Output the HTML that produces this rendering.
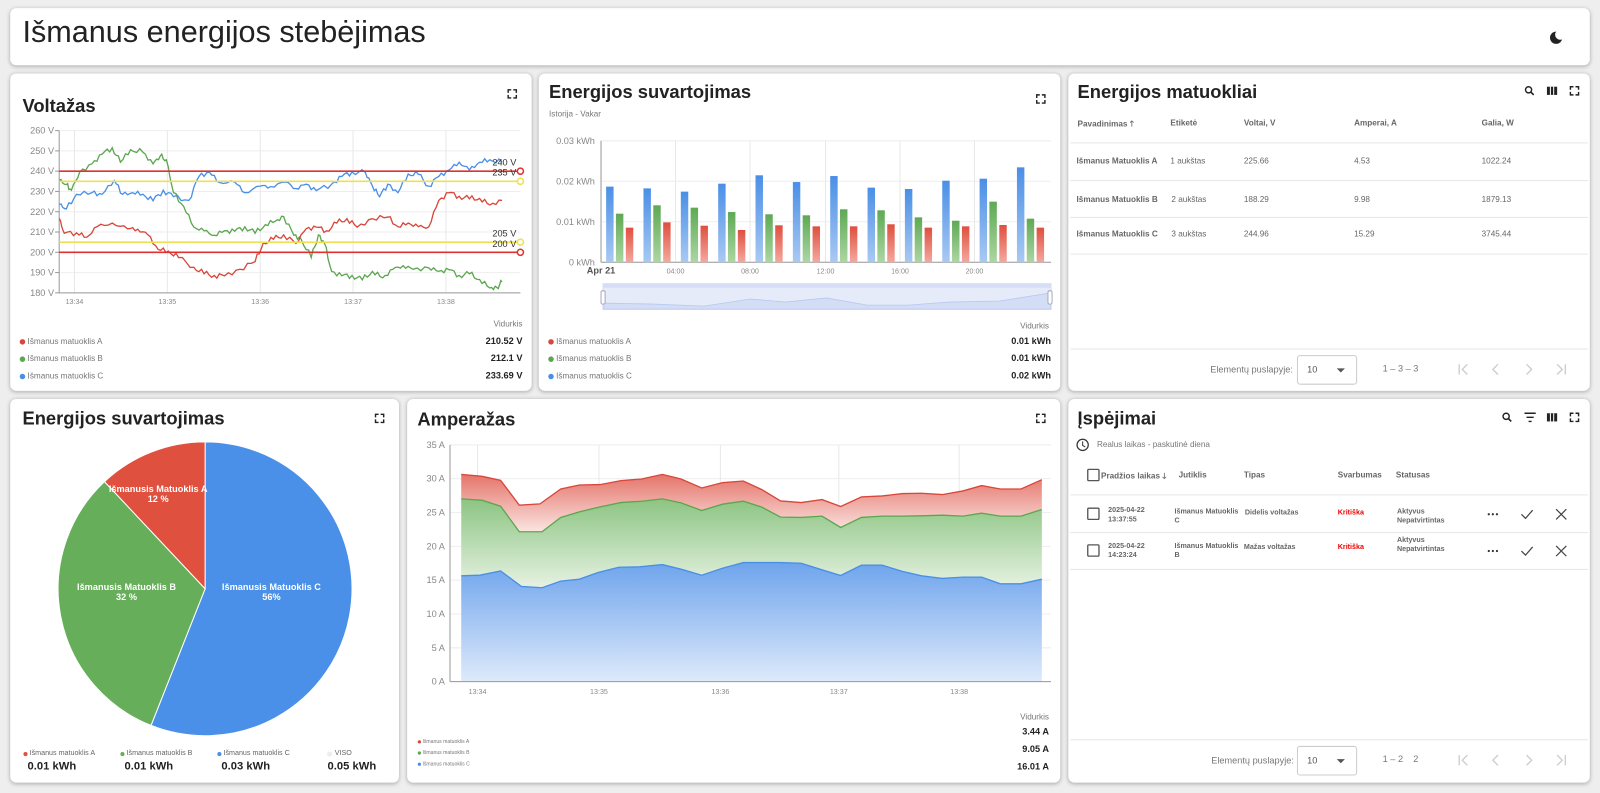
<!DOCTYPE html>
<html><head><meta charset="utf-8">
<style>
html,body{margin:0;padding:0;width:1600px;height:793px;overflow:hidden;background:#eeeeee;font-family:"Liberation Sans",Arial,sans-serif;}
#wrap{position:absolute;left:0;top:0;width:1568px;height:777px;transform:scale(1.020408);transform-origin:0 0;}
.card{position:absolute;background:#fff;border-radius:6px;box-shadow:0 1px 4px rgba(0,0,0,.28);z-index:0}
.t{position:absolute;white-space:nowrap;z-index:2}
.h{font-size:18px;font-weight:bold;color:#222;}
svg{position:absolute;left:0;top:0;overflow:visible;z-index:1}
</style></head><body>
<div id="wrap">
<div class="card" style="left:10px;top:8px;width:1548px;height:56px"></div>
<div class="card" style="left:10px;top:72px;width:511px;height:311px"></div>
<div class="card" style="left:528px;top:72px;width:511px;height:311px"></div>
<div class="card" style="left:1047px;top:72px;width:511px;height:311px"></div>
<div class="card" style="left:10px;top:391px;width:381px;height:376px"></div>
<div class="card" style="left:399px;top:391px;width:640px;height:376px"></div>
<div class="card" style="left:1047px;top:391px;width:511px;height:376px"></div>

<div class="t" style="left:22px;top:15px;font-size:30px;color:#222">Išmanus energijos stebėjimas</div>

<div class="t h" style="left:22px;top:94px">Voltažas</div>
<div class="t h" style="left:538px;top:80px">Energijos suvartojimas</div>
<div class="t" style="left:538px;top:107px;font-size:8px;color:#777">Istorija - Vakar</div>
<div class="t h" style="left:1056px;top:80px">Energijos matuokliai</div>
<div class="t h" style="left:22px;top:400px">Energijos suvartojimas</div>
<div class="t h" style="left:409px;top:401px">Amperažas</div>
<div class="t h" style="left:1056px;top:400px">Įspėjimai</div>
<div class="t" style="left:1075px;top:431px;font-size:8px;color:#777">Realus laikas - paskutinė diena</div>

<div class="t" style="left:470px;top:313px;width:42px;text-align:right;font-size:8px;color:#777">Vidurkis</div>
<div class="t" style="left:27px;top:330px;font-size:8px;color:#777">Išmanus matuoklis A</div>
<div class="t" style="left:27px;top:347px;font-size:8px;color:#777">Išmanus matuoklis B</div>
<div class="t" style="left:27px;top:364px;font-size:8px;color:#777">Išmanus matuoklis C</div>
<div class="t" style="left:440px;top:329px;width:72px;text-align:right;font-size:9px;font-weight:bold;color:#222">210.52 V</div>
<div class="t" style="left:440px;top:346px;width:72px;text-align:right;font-size:9px;font-weight:bold;color:#222">212.1 V</div>
<div class="t" style="left:440px;top:363px;width:72px;text-align:right;font-size:9px;font-weight:bold;color:#222">233.69 V</div>

<div class="t" style="left:980px;top:315px;width:48px;text-align:right;font-size:8px;color:#777">Vidurkis</div>
<div class="t" style="left:545px;top:330px;font-size:8px;color:#777">Išmanus matuoklis A</div>
<div class="t" style="left:545px;top:347px;font-size:8px;color:#777">Išmanus matuoklis B</div>
<div class="t" style="left:545px;top:364px;font-size:8px;color:#777">Išmanus matuoklis C</div>
<div class="t" style="left:950px;top:329px;width:80px;text-align:right;font-size:9px;font-weight:bold;color:#222">0.01 kWh</div>
<div class="t" style="left:950px;top:346px;width:80px;text-align:right;font-size:9px;font-weight:bold;color:#222">0.01 kWh</div>
<div class="t" style="left:950px;top:363px;width:80px;text-align:right;font-size:9px;font-weight:bold;color:#222">0.02 kWh</div>

<div style="font-size:8px;color:#666;font-weight:bold">
<div class="t" style="left:1056px;top:116px">Pavadinimas 🡑</div>
<div class="t" style="left:1147px;top:116px">Etiketė</div>
<div class="t" style="left:1219px;top:116px">Voltai, V</div>
<div class="t" style="left:1327px;top:116px">Amperai, A</div>
<div class="t" style="left:1452px;top:116px">Galia, W</div>
</div>
<div style="font-size:8px;color:#666">
<div class="t" style="left:1055px;top:153px;font-weight:bold">Išmanus Matuoklis A</div><div class="t" style="left:1147px;top:153px">1 aukštas</div><div class="t" style="left:1219px;top:153px">225.66</div><div class="t" style="left:1327px;top:153px">4.53</div><div class="t" style="left:1452px;top:153px">1022.24</div>
<div class="t" style="left:1055px;top:191px;font-weight:bold">Išmanus Matuoklis B</div><div class="t" style="left:1148px;top:191px">2 aukštas</div><div class="t" style="left:1219px;top:191px">188.29</div><div class="t" style="left:1327px;top:191px">9.98</div><div class="t" style="left:1452px;top:191px">1879.13</div>
<div class="t" style="left:1055px;top:225px;font-weight:bold">Išmanus Matuoklis C</div><div class="t" style="left:1148px;top:225px">3 aukštas</div><div class="t" style="left:1219px;top:225px">244.96</div><div class="t" style="left:1327px;top:225px">15.29</div><div class="t" style="left:1452px;top:225px">3745.44</div>
</div>
<div class="t" style="left:1186px;top:357px;font-size:9px;color:#777">Elementų puslapyje:</div>
<div class="t" style="left:1271px;top:348px;width:57px;height:27px;border:1px solid #ccc;border-radius:3px"></div>
<div class="t" style="left:1281px;top:357px;font-size:9px;color:#555">10</div>
<div class="t" style="left:1355px;top:356px;font-size:9px;color:#777">1 – 3 – 3</div>

<div style="font-size:8px;color:#666;font-weight:bold">
<div class="t" style="left:1079px;top:461px">Pradžios laikas 🡓</div>
<div class="t" style="left:1155px;top:461px">Jutiklis</div>
<div class="t" style="left:1219px;top:461px">Tipas</div>
<div class="t" style="left:1311px;top:461px">Svarbumas</div>
<div class="t" style="left:1368px;top:461px">Statusas</div>
</div>
<div style="font-size:7px;color:#666;font-weight:bold;line-height:9px">
<div class="t" style="left:1086px;top:496px">2025-04-22<br>13:37:55</div>
<div class="t" style="left:1151px;top:497px">Išmanus Matuoklis<br>C</div>
<div class="t" style="left:1220px;top:498px">Didelis voltažas</div>
<div class="t" style="left:1311px;top:498px;color:#e00">Kritiška</div>
<div class="t" style="left:1369px;top:497px">Aktyvus<br>Nepatvirtintas</div>
<div class="t" style="left:1086px;top:531px">2025-04-22<br>14:23:24</div>
<div class="t" style="left:1151px;top:531px">Išmanus Matuoklis<br>B</div>
<div class="t" style="left:1219px;top:532px">Mažas voltažas</div>
<div class="t" style="left:1311px;top:532px;color:#e00">Kritiška</div>
<div class="t" style="left:1369px;top:525px">Aktyvus<br>Nepatvirtintas</div>
</div>
<div class="t" style="left:1187px;top:740px;font-size:9px;color:#777">Elementų puslapyje:</div>
<div class="t" style="left:1271px;top:731px;width:57px;height:27px;border:1px solid #ccc;border-radius:3px"></div>
<div class="t" style="left:1281px;top:740px;font-size:9px;color:#555">10</div>
<div class="t" style="left:1355px;top:739px;font-size:9px;color:#777">1 – 2 &nbsp;&nbsp; 2</div>

<div style="font-size:7px;color:#666">
<div class="t" style="left:29px;top:735px">Išmanus matuoklis A</div>
<div class="t" style="left:124px;top:735px">Išmanus matuoklis B</div>
<div class="t" style="left:219px;top:735px">Išmanus matuoklis C</div>
<div class="t" style="left:328px;top:735px">VISO</div>
</div>
<div style="font-size:11px;color:#222;font-weight:bold">
<div class="t" style="left:27px;top:745px">0.01 kWh</div>
<div class="t" style="left:122px;top:745px">0.01 kWh</div>
<div class="t" style="left:217px;top:745px">0.03 kWh</div>
<div class="t" style="left:321px;top:745px">0.05 kWh</div>
</div>
<div style="font-size:9px;color:#fff;font-weight:bold;text-align:center">
<div class="t" style="left:216px;top:570px;width:100px;text-align:center">Išmanusis Matuoklis C<br>56%</div>
<div class="t" style="left:74px;top:570px;width:100px;text-align:center">Išmanusis Matuoklis B<br>32 %</div>
<div class="t" style="left:105px;top:474px;width:100px;text-align:center">Išmanusis Matuoklis A<br>12 %</div>
</div>

<div class="t" style="left:980px;top:698px;width:48px;text-align:right;font-size:8px;color:#777">Vidurkis</div>
<div style="font-size:5px;color:#777">
<div class="t" style="left:414px;top:724px">Išmanus matuoklis A</div>
<div class="t" style="left:414px;top:735px">Išmanus matuoklis B</div>
<div class="t" style="left:414px;top:746px">Išmanus matuoklis C</div>
</div>
<div style="font-size:9px;color:#222;font-weight:bold">
<div class="t" style="left:970px;top:712px;width:58px;text-align:right">3.44 A</div>
<div class="t" style="left:970px;top:729px;width:58px;text-align:right">9.05 A</div>
<div class="t" style="left:970px;top:746px;width:58px;text-align:right">16.01 A</div>
</div>

<svg id="s" width="1568" height="777"></svg>
</div>
<script>
var S=document.getElementById('s'),o='';
o+='<defs>'+
'<linearGradient id="gb" x1="0" y1="0" x2="0" y2="1"><stop offset="0" stop-color="#4a8fe6"/><stop offset="1" stop-color="#a9c9f3"/></linearGradient>'+
'<linearGradient id="gg" x1="0" y1="0" x2="0" y2="1"><stop offset="0" stop-color="#5ea954"/><stop offset="1" stop-color="#acd6a3"/></linearGradient>'+
'<linearGradient id="gr" x1="0" y1="0" x2="0" y2="1"><stop offset="0" stop-color="#df4f3f"/><stop offset="1" stop-color="#f4a89f"/></linearGradient>'+
'<linearGradient id="ab" x1="0" y1="0" x2="0" y2="1"><stop offset="0" stop-color="#6ea4ec"/><stop offset="1" stop-color="#deeafb"/></linearGradient>'+
'<linearGradient id="ag" x1="0" y1="0" x2="0" y2="1"><stop offset="0" stop-color="#8cc482"/><stop offset="1" stop-color="#e6f2e2"/></linearGradient>'+
'<linearGradient id="ar" x1="0" y1="0" x2="0" y2="1"><stop offset="0" stop-color="#e4746a"/><stop offset="1" stop-color="#fbe4e1"/></linearGradient>'+
'</defs>';
function txt(x,y,s,a,sz,c,w){return '<text x="'+x+'" y="'+y+'" font-size="'+(sz||8)+'" fill="'+(c||'#777')+'" text-anchor="'+(a||'start')+'"'+(w?' font-weight="bold"':'')+' font-family="Liberation Sans,sans-serif">'+s+'</text>';}
function fs(x,y){return '<path d="M'+(x-4)+' '+(y-1)+'v-3h3M'+(x+1)+' '+(y-4)+'h3v3M'+(x+4)+' '+(y+1)+'v3h-3M'+(x-1)+' '+(y+4)+'h-3v-3" stroke="#222" stroke-width="1.4" fill="none"/>';}
o+='<circle cx="1525" cy="37" r="6" fill="#222"/><circle cx="1529" cy="34" r="5" fill="#fff"/>';
var vy=function(v){return 287-(v-180)*1.9875;};
for(var v=180;v<=260;v+=10){var y=vy(v);o+='<line x1="58" x2="510" y1="'+y+'" y2="'+y+'" stroke="#eee"/>'+txt(53,y+3,v+' V','end',9,'#888')+'<line x1="54" x2="58" y1="'+y+'" y2="'+y+'" stroke="#999"/>';}
var vx=[73,164,255,346,437],vl=['13:34','13:35','13:36','13:37','13:38'];
vx.forEach(function(x,i){o+='<line x1="'+x+'" x2="'+x+'" y1="128" y2="287" stroke="#e8e8e8"/>'+txt(x,298,vl[i],'middle',7,'#888');});
o+='<line x1="58" x2="58" y1="128" y2="287" stroke="#999"/><line x1="58" x2="510" y1="287" y2="287" stroke="#999"/>';
function vline(pts,c){var s='';for(var i=0;i<pts.length;i+=2){var x=pts[i],y=vy(pts[i+1]);s+=(i?'L':'M')+x+' '+(y+(i%4?1.2:-1.2)).toFixed(1);
 if(i+2<pts.length){var nx=pts[i+2],ny=vy(pts[i+3]);for(var k=1;k<4;k++){var t=k/4;s+='L'+(x+(nx-x)*t).toFixed(1)+' '+(y+(ny-y)*t+Math.sin(x*7.3+k*2.1)*2.2).toFixed(1);}}}
 return '<path d="'+s+'" fill="none" stroke="'+c+'" stroke-width="1.3"/>';}
var A=[58,216,63,210,75,209,85,208,95,212,110,215,125,211,135,212,145,208,155,202,165,200,175,198,190,192,200,190,210,188,220,189,235,191,250,196,258,204,268,207,278,208,290,205,300,211,310,213,320,210,330,215,340,216,350,213,365,216,380,218,390,212,400,215,410,212,420,213,430,225,440,230,450,227,460,227,470,226,480,224,492,225];
var B=[58,235,65,234,70,230,78,240,90,243,100,249,110,251,118,245,128,250,140,250,150,243,157,248,163,245,170,230,180,222,190,213,200,210,210,209,220,210,230,211,240,212,250,210,260,213,270,216,278,217,288,209,295,206,305,198,312,208,318,205,325,190,335,189,345,188,355,187,365,190,375,188,385,191,395,194,405,191,420,193,430,190,440,192,450,188,460,190,470,186,480,183,487,182,492,186];
var C=[58,223,65,222,75,228,90,230,100,228,112,236,120,228,130,230,140,228,150,226,160,230,170,228,185,225,195,238,205,239,215,235,230,234,240,230,255,232,265,233,280,234,290,232,300,233,310,231,325,233,335,238,345,239,358,240,365,232,372,228,380,233,390,230,400,238,410,239,420,232,430,238,440,240,450,245,460,240,470,245,480,245,492,245];
o+=vline(B,'#5ca64f')+vline(A,'#d9463a')+vline(C,'#4a8fe6');
[[240,'#e03030'],[235,'#f0e050'],[205,'#f0e050'],[200,'#e03030']].forEach(function(p){var y=vy(p[0]);o+='<line x1="58" x2="510" y1="'+y+'" y2="'+y+'" stroke="'+p[1]+'" stroke-width="1.6"/><circle cx="510" cy="'+y+'" r="3" fill="#fff" stroke="'+p[1]+'" stroke-width="1.5"/>';});
o+=txt(506,162,'240 V','end',9,'#333')+txt(506,172,'235 V','end',9,'#333')+txt(506,232,'205 V','end',9,'#333')+txt(506,242,'200 V','end',9,'#333');
o+='<circle cx="22" cy="335" r="2.7" fill="#d9463a"/><circle cx="22" cy="352" r="2.7" fill="#5ca64f"/><circle cx="22" cy="369" r="2.7" fill="#4a8fe6"/>';
o+=fs(502,92);
var by=function(v){return 257-v*(119/0.03);};
for(var k=0;k<=3;k++){var y=by(k*0.01);o+='<line x1="589" x2="1030" y1="'+y+'" y2="'+y+'" stroke="#eee"/>'+txt(583,y+3,(k?('0.0'+k):'0')+' kWh','end',9,'#888');}
var bx=[589,662,735,809,882,955],bl=['Apr 21','04:00','08:00','12:00','16:00','20:00'];
bx.forEach(function(x,i){o+='<line x1="'+x+'" x2="'+x+'" y1="138" y2="257" stroke="#e8e8e8"/>'+txt(x,268,bl[i],'middle',i?7:9,i?'#888':'#555',!i);});
o+='<line x1="589" x2="589" y1="138" y2="257" stroke="#999"/><line x1="589" x2="1030" y1="257" y2="257" stroke="#999"/>';
var zb=[350,355,365,341,316,336,318,353,357,332,326,292],zg=[431,406,413,426,433,436,418,421,442,452,395,446],zr=[473,457,467,480,466,469,469,463,473,469,465,473];
function zt(z){return (70+z/3)/1.0204;}
for(var i=0;i<12;i++){var x0=594+i*36.6;
 [[zb[i],0,'gb'],[zg[i],9.6,'gg'],[zr[i],19.3,'gr']].forEach(function(b){var t=zt(b[0]);o+='<rect x="'+(x0+b[1]).toFixed(1)+'" y="'+t.toFixed(1)+'" width="7.3" height="'+(257-t).toFixed(1)+'" fill="url(#'+b[2]+')"/>';});}
o+='<rect x="591" y="278" width="439" height="25" fill="#e5ebf9" stroke="#d6def2"/><rect x="591" y="278" width="439" height="4" fill="#d5def4"/>';
o+='<path d="M591 297 L640 298 L690 300 L735 293 L770 296 L810 292 L850 299 L890 299 L930 296 L980 295 L1030 287 L1030 303 L591 303Z" fill="#d3ddf5" stroke="#b8c8ee" stroke-width="0.8"/>';
o+='<rect x="589" y="285" width="4" height="13" rx="1.5" fill="#fff" stroke="#aab"/><rect x="1027" y="285" width="4" height="13" rx="1.5" fill="#fff" stroke="#aab"/>';
o+='<circle cx="540" cy="335" r="2.7" fill="#d9463a"/><circle cx="540" cy="352" r="2.7" fill="#5ca64f"/><circle cx="540" cy="369" r="2.7" fill="#4a8fe6"/>';
o+=fs(1020,97);
[140,177,213,249].forEach(function(y){o+='<line x1="1049" x2="1556" y1="'+y+'" y2="'+y+'" stroke="#e6e6e6"/>';});
o+='<line x1="1049" x2="1556" y1="342" y2="342" stroke="#e6e6e6"/>';
function tools(x,y){return '<circle cx="'+(x-1)+'" cy="'+(y-1)+'" r="3" fill="none" stroke="#222" stroke-width="1.4"/><line x1="'+(x+1)+'" y1="'+(y+1)+'" x2="'+(x+4)+'" y2="'+(y+4)+'" stroke="#222" stroke-width="1.6"/>';}
function cols(x,y){return '<rect x="'+(x-5)+'" y="'+(y-4)+'" width="10" height="8" fill="#222"/><line x1="'+(x-1.6)+'" x2="'+(x-1.6)+'" y1="'+(y-4)+'" y2="'+(y+4)+'" stroke="#fff"/><line x1="'+(x+1.6)+'" x2="'+(x+1.6)+'" y1="'+(y-4)+'" y2="'+(y+4)+'" stroke="#fff"/>';}
o+=tools(1499,89)+cols(1521,89)+fs(1543,89);
o+='<path d="M1310 361l4 4 4-4z" fill="#555"/>';
function nav(y){var c='#ccc';return '<path d="M1430 '+(y-5)+'v10M1438 '+(y-5)+'l-5 5 5 5M1468 '+(y-5)+'l-5 5 5 5M1496 '+(y-5)+'l5 5-5 5M1526 '+(y-5)+'l5 5-5 5M1534 '+(y-5)+'v10" stroke="'+c+'" stroke-width="1.3" fill="none"/>';}
o+=nav(362)+nav(745);
o+=tools(1477,409)+'<path d="M1494 405h11M1496 409h7M1498 413h3" stroke="#222" stroke-width="1.4"/>'+cols(1521,409)+fs(1543,409);
o+='<circle cx="1061" cy="436" r="5.5" fill="none" stroke="#333" stroke-width="1.2"/><path d="M1061 432.5v4l2.5 1.5" stroke="#333" fill="none" stroke-width="1"/>';
[485,522,558,725].forEach(function(y){o+='<line x1="1049" x2="1556" y1="'+y+'" y2="'+y+'" stroke="#e6e6e6"/>';});
[[1066,460],[1066,498],[1066,534]].forEach(function(p){o+='<rect x="'+p[0]+'" y="'+p[1]+'" width="11" height="11" rx="1" fill="none" stroke="#555" stroke-width="1.3"/>';});
[504,540].forEach(function(y){o+='<circle cx="1459" cy="'+y+'" r="1.1" fill="#333"/><circle cx="1463" cy="'+y+'" r="1.1" fill="#333"/><circle cx="1467" cy="'+y+'" r="1.1" fill="#333"/>';
 o+='<path d="M1491 '+y+'l4 4 7-8" stroke="#444" fill="none" stroke-width="1.2"/><path d="M1525 '+(y-5)+'l10 10M1535 '+(y-5)+'l-10 10" stroke="#444" stroke-width="1.2"/>';});
o+='<path d="M1310 744l4 4 4-4z" fill="#555"/>';
o+='<path d="M201 577 L201 433 A144 144 0 1 1 148 710.9Z" fill="#4a8fe8" stroke="#fff"/>';
o+='<path d="M201 577 L148 710.9 A144 144 0 0 1 102.4 472Z" fill="#66ae5a" stroke="#fff"/>';
o+='<path d="M201 577 L102.4 472 A144 144 0 0 1 201 433Z" fill="#e0503e" stroke="#fff"/>';
o+='<circle cx="25" cy="739" r="2" fill="#e0503e"/><circle cx="120" cy="739" r="2" fill="#66ae5a"/><circle cx="215" cy="739" r="2" fill="#4a8fe8"/><circle cx="323" cy="739" r="2.5" fill="#eee"/>';
o+=fs(372,410);
var ay=function(a){return 668-a*6.63;};
for(var a=0;a<=35;a+=5){var y=ay(a);o+='<line x1="441" x2="1030" y1="'+y+'" y2="'+y+'" stroke="#eee"/>'+txt(436,y+3,a+' A','end',9,'#888');}
var ax=[468,587,706,822,940],al=['13:34','13:35','13:36','13:37','13:38'];
ax.forEach(function(x,i){o+='<line x1="'+x+'" x2="'+x+'" y1="436" y2="668" stroke="#e8e8e8"/>'+txt(x,680,al[i],'middle',7,'#888');});
function ap(pts){return pts.map(function(p){return [452+(p[0]-160)*0.4064, 668-(877-p[1])*0.325];});}
var bl2=ap([[160,558],[205,556],[255,543],[305,590],[355,594],[400,574],[445,568],[490,548],[540,532],[590,531],[645,524],[690,538],[740,556],[790,535],[840,518],[930,518],[980,520],[1025,538],[1075,557],[1125,526],[1175,526],[1225,545],[1270,558],[1320,566],[1370,562],[1415,562],[1460,582],[1510,582],[1560,568]]);
var gl2=ap([[160,326],[210,330],[255,348],[300,425],[355,425],[400,382],[445,365],[495,350],[545,337],[595,333],[645,326],[690,338],[740,361],[790,342],[840,333],[885,351],[930,381],[980,382],[1030,378],[1075,412],[1125,382],[1175,378],[1225,378],[1270,377],[1320,375],[1370,378],[1415,369],[1460,378],[1510,378],[1560,358]]);
var rl2=ap([[160,252],[210,258],[255,270],[300,345],[350,341],[400,296],[445,284],[495,283],[545,271],[595,266],[645,252],[690,266],[740,293],[790,277],[840,272],[885,298],[930,332],[980,337],[1030,328],[1075,349],[1125,320],[1175,317],[1225,310],[1270,309],[1320,313],[1370,302],[1415,286],[1460,296],[1510,296],[1560,268]]);
function pl(p){return p.map(function(q,i){return (i?'L':'M')+q[0].toFixed(1)+' '+q[1].toFixed(1);}).join('');}
function rev(p){return p.slice().reverse().map(function(q){return 'L'+q[0].toFixed(1)+' '+q[1].toFixed(1);}).join('');}
o+='<path d="'+pl(rl2)+rev(gl2)+'Z" fill="url(#ar)"/>';
o+='<path d="'+pl(gl2)+rev(bl2)+'Z" fill="url(#ag)"/>';
o+='<path d="'+pl(bl2)+'L1021 668L452 668Z" fill="url(#ab)"/>';
o+='<path d="'+pl(rl2)+'" fill="none" stroke="#d9463a" stroke-width="1.3"/><path d="'+pl(gl2)+'" fill="none" stroke="#5ca64f" stroke-width="1.3"/><path d="'+pl(bl2)+'" fill="none" stroke="#4a8fe6" stroke-width="1.3"/>';
o+='<line x1="441" x2="441" y1="436" y2="668" stroke="#999"/><line x1="441" x2="1030" y1="668" y2="668" stroke="#999"/>';
o+='<circle cx="411" cy="727" r="1.6" fill="#d9463a"/><circle cx="411" cy="738" r="1.6" fill="#5ca64f"/><circle cx="411" cy="749" r="1.6" fill="#4a8fe6"/>';
o+=fs(1020,410);
S.innerHTML=o;
</script>
</body></html>
